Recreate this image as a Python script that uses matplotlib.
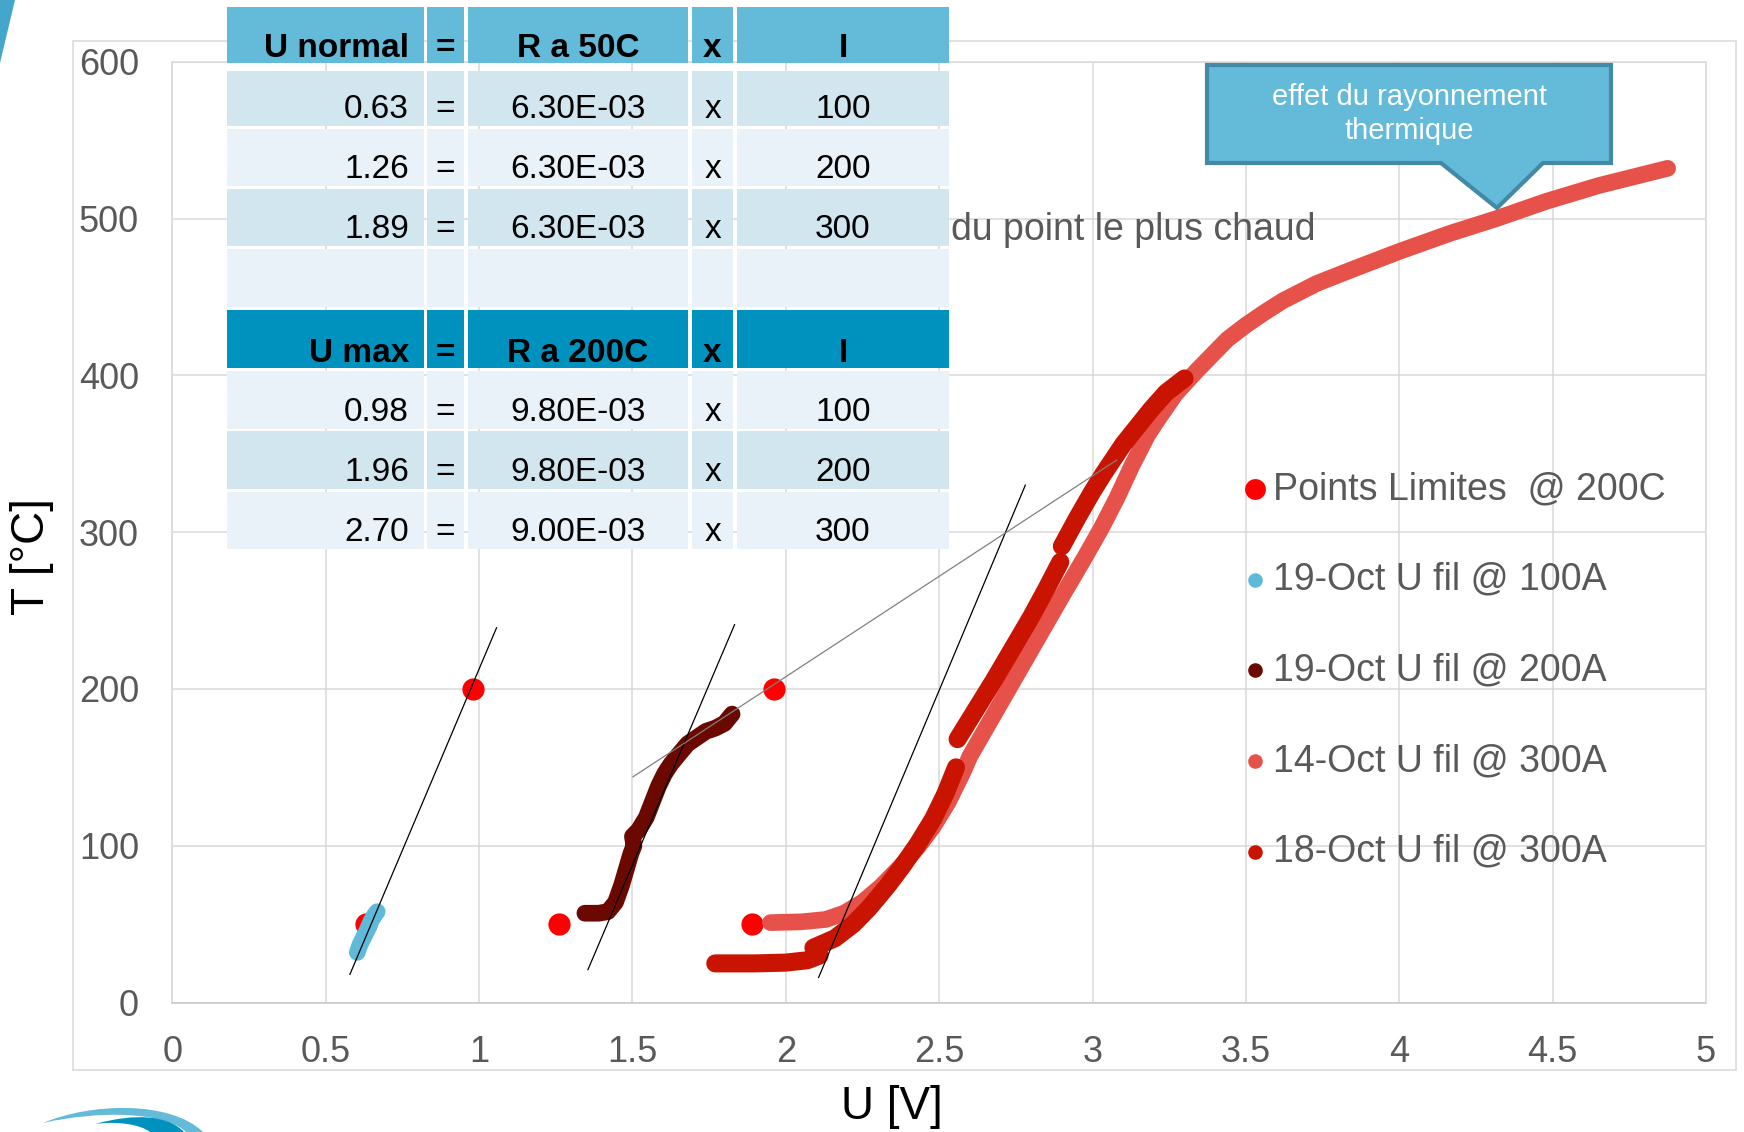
import matplotlib.pyplot as plt
import numpy as np
from matplotlib.patches import Rectangle, Polygon, PathPatch
from matplotlib.path import Path

plt.rcParams['font.family'] = ['Liberation Sans', 'DejaVu Sans']

nan = float('nan')

# --- data (U in V, T in degC) ---
limit_u = [0.63, 0.98, 1.26, 1.89, 1.96]
limit_t = [50, 200, 50, 50, 200]

oct19_100_u = [0.603, 0.612, 0.622, 0.635, 0.648, 0.660, 0.668]
oct19_100_t = [32, 37, 41, 46, 52, 56, 58]

oct19_200_u = [1.345, 1.39, 1.42, 1.445, 1.465, 1.48, 1.495, 1.505, 1.50, 1.52, 1.545,
               1.565, 1.585, 1.605, 1.625, 1.65, 1.68, 1.71, 1.74, 1.77, 1.80, 1.825]
oct19_200_t = [57, 57, 58, 64, 75, 85, 95, 100, 106, 110, 118,
               128, 138, 146, 152, 158, 165, 169, 173, 175, 178, 184]

oct14_300_u = [1.95, 2.05, 2.13, 2.19, 2.25, 2.31, 2.37, 2.43, 2.48, 2.53, 2.58, 2.60,
               2.70, 2.80, 2.90, 2.975, 3.03, 3.08, 3.13, 3.18, 3.21, 3.27, 3.34,
               3.405, 3.44, 3.50, 3.56, 3.62, 3.73, 3.84, 4.00, 4.165, 4.318, 4.48, 4.65, 4.875]
oct14_300_t = [51, 51.5, 53, 57, 64, 74, 86, 99, 112, 128, 148, 157,
               191, 225, 259, 284, 303, 322, 343, 362, 371, 388, 403,
               416, 423, 432, 440, 447.5, 458.5, 467, 479, 490.5, 500, 511, 521, 532]

oct18_300_u = [1.77, 1.90, 2.00, 2.07, 2.11, nan,
               2.09, 2.16, 2.22, 2.27, 2.33, 2.38, 2.43, 2.48, 2.52, 2.555, nan,
               2.56, 2.62, 2.68, 2.74, 2.80, 2.85, 2.895, nan,
               2.90, 2.95, 3.00, 3.035, 3.10, 3.19, 3.24, 3.30]
oct18_300_t = [25, 25, 25.5, 27, 30, nan,
               35, 41, 50, 60, 74, 87, 101, 117, 133, 150, nan,
               168, 187, 206, 226, 246, 264, 281, nan,
               291, 309, 326, 337, 356, 378, 389, 398]

# tangent / fit lines (endpoints)
fit_lines = [([0.579, 1.057], [18, 239]),
             ([1.355, 1.833], [21, 241]),
             ([2.107, 2.781], [16, 330])]
link_line = ([1.502, 3.079], [144, 346])

# table content
u_normal = [0.63, 1.26, 1.89]
r_50 = [6.30e-3, 6.30e-3, 6.30e-3]
u_max = [0.98, 1.96, 2.70]
r_200 = [9.80e-3, 9.80e-3, 9.00e-3]
currents = [100, 200, 300]
header_normal = ['U normal', '=', 'R a 50C', 'x', 'I']
header_max = ['U max', '=', 'R a 200C', 'x', 'I']

x_ticks = [0, 0.5, 1, 1.5, 2, 2.5, 3, 3.5, 4, 4.5, 5]
x_tick_labels = ['0', '0.5', '1', '1.5', '2', '2.5', '3', '3.5', '4', '4.5', '5']
y_ticks = [0, 100, 200, 300, 400, 500, 600]

series = [
    ('Points Limites  @ 200C', '#ff0000', 15),
    ('19-Oct U fil @ 100A', '#5fb9d9', 10.5),
    ('19-Oct U fil @ 200A', '#6b0800', 10.5),
    ('14-Oct U fil @ 300A', '#e6524a', 10.5),
    ('18-Oct U fil @ 300A', '#c81400', 10.5),
]

W, H = 1744, 1132
fig = plt.figure(figsize=(W / 100, H / 100), dpi=100)

# main plot area (pixel positions of the reference)
x0, x1, y0, y1 = 172.3, 1706, 1002.6, 61.7
ax = fig.add_axes([x0 / W, 1 - y0 / H, (x1 - x0) / W, (y0 - y1) / H])

grid_c = '#d9d9d9'
kw = dict(solid_capstyle='round', solid_joinstyle='round')
ax.plot(limit_u, limit_t, 'o', color=series[0][1], ms=16, mew=0, zorder=2)
ax.plot(oct19_100_u, oct19_100_t, color=series[1][1], lw=12, zorder=3, **kw)
ax.plot(oct19_200_u, oct19_200_t, color=series[2][1], lw=12, zorder=3, **kw)
ax.plot(oct14_300_u, oct14_300_t, color=series[3][1], lw=12, zorder=3, **kw)
ax.plot(oct18_300_u, oct18_300_t, color=series[4][1], lw=13, zorder=4, **kw)

for fx, fy in fit_lines:
    ax.plot(fx, fy, color='black', lw=0.9, zorder=6)
ax.plot(link_line[0], link_line[1], color='#808080', lw=0.9, zorder=6)

ax.set_xlim(0, 5)
ax.set_ylim(0, 600)
ax.set_xticks(x_ticks)
ax.set_xticklabels(x_tick_labels)
ax.set_yticks(y_ticks)
ax.tick_params(length=0, labelsize=26, colors='#595959')
ax.tick_params(axis='x', pad=23)
ax.tick_params(axis='y', pad=24)
ax.grid(True, color=grid_c, lw=1.1)
ax.set_axisbelow(True)
for s in ax.spines.values():
    s.set_color(grid_c)
    s.set_linewidth(1.1)
ax.spines['bottom'].set_color('#c8c8c8')

ax.set_xlabel('U [V]', fontsize=33, color='black')
ax.xaxis.set_label_coords((891.7 - x0) / (x1 - x0), -(1106.7 - y0) / (y0 - y1))
ax.xaxis.label.set_va('center')
ax.set_ylabel('T [°C]', fontsize=33, color='black')
ax.yaxis.set_label_coords((31.7 - x0) / (x1 - x0), (y0 - 557) / (y0 - y1))
ax.yaxis.label.set_va('center')
ax.yaxis.label.set_ha('center')

# overlay in pixel coordinates for table, callout, legend, decorations
ov = fig.add_axes([0, 0, 1, 1])
ov.set_zorder(5)
ov.set_xlim(0, W)
ov.set_ylim(H, 0)
ov.axis('off')
ov.patch.set_alpha(0)

# outer chart frame
ov.add_patch(Rectangle((73, 40.7), 1663, 1029.3, fill=False, ec=grid_c, lw=1.1, zorder=1))

# title fragment partly hidden by the table
ov.text(951, 240, 'du point le plus chaud', fontsize=27, color='#595959',
        ha='left', va='baseline', zorder=2)

# table
col_x = [(226.6, 423.8), (426.8, 464.2), (467.8, 688.3), (692, 733), (736.7, 949.2)]
row_y = [(7, 62.5), (70.7, 125.7), (128.6, 186.4), (189.3, 246.4), (249.3, 307.1),
         (310, 368), (371.4, 428.6), (431.4, 488.6), (492, 549.3)]
c_head1, c_head2 = '#64bad9', '#0092bf'
c_dark, c_light = '#d2e6f0', '#e9f2f8'
row_col = [c_head1, c_dark, c_light, c_dark, c_light, c_head2, c_light, c_dark, c_light]

rows = [header_normal]
for u, r, i in zip(u_normal, r_50, currents):
    rows.append([f'{u:.2f}', '=', f'{r:.2E}', 'x', f'{i}'])
rows.append(['', '', '', '', ''])
rows.append(header_max)
for u, r, i in zip(u_max, r_200, currents):
    rows.append([f'{u:.2f}', '=', f'{r:.2E}', 'x', f'{i}'])

for ri, (ya, yb) in enumerate(row_y):
    bold = ri in (0, 5)
    for ci, (xa, xb) in enumerate(col_x):
        ov.add_patch(Rectangle((xa, ya), xb - xa, yb - ya, fc=row_col[ri], ec='none', zorder=3))
        txt = rows[ri][ci]
        if not txt:
            continue
        base = yb - (5.5 if bold else 8)
        tx, ha = (409, 'right') if ci == 0 else ((xa + xb) / 2, 'center')
        ov.text(tx, base, txt, ha=ha, va='baseline', fontsize=24,
                fontweight='bold' if bold else 'normal', color='black', zorder=4)

# callout
callout = [(1207, 65), (1611, 65), (1611, 163), (1543, 163), (1497, 208),
           (1441, 163), (1207, 163)]
ov.add_patch(Polygon(callout, closed=True, fc='#64bad9', ec='#4189a4', lw=3,
                     joinstyle='miter', zorder=3))
ov.text(1409, 105, 'effet du rayonnement', fontsize=21, color='white',
        ha='center', va='baseline', zorder=4)
ov.text(1409, 139, 'thermique', fontsize=21, color='white',
        ha='center', va='baseline', zorder=4)

# legend
leg_y = [489, 579.5, 670, 761, 851.5]
for (lab, col, ms), yy in zip(series, leg_y):
    ov.plot([1254.5], [yy], 'o', color=col, ms=ms, mew=0, zorder=4)
    ov.text(1273, yy, lab, fontsize=27, color='#595959', ha='left', va='center', zorder=4)

# logo fragments
ov.add_patch(Polygon([(0, 0), (15, 0), (0, 63)], closed=True, fc='#45a6cc', ec='none'))
C4, L = Path.CURVE4, Path.LINETO
light = Path([(43, 1123), (90, 1103), (170, 1100), (203, 1132), (186, 1132),
              (165, 1112), (100, 1110), (43, 1123), (43, 1123)],
             [Path.MOVETO, C4, C4, C4, L, C4, C4, C4, Path.CLOSEPOLY])
dark = Path([(95, 1124), (135, 1113), (168, 1115), (184, 1132), (150, 1132),
             (140, 1124), (115, 1121), (95, 1124), (95, 1124)],
            [Path.MOVETO, C4, C4, C4, L, C4, C4, C4, Path.CLOSEPOLY])
ov.add_patch(PathPatch(light, fc='#64bad9', ec='none'))
ov.add_patch(PathPatch(dark, fc='#0092bf', ec='none'))

fig.savefig('out.png', dpi=100)
